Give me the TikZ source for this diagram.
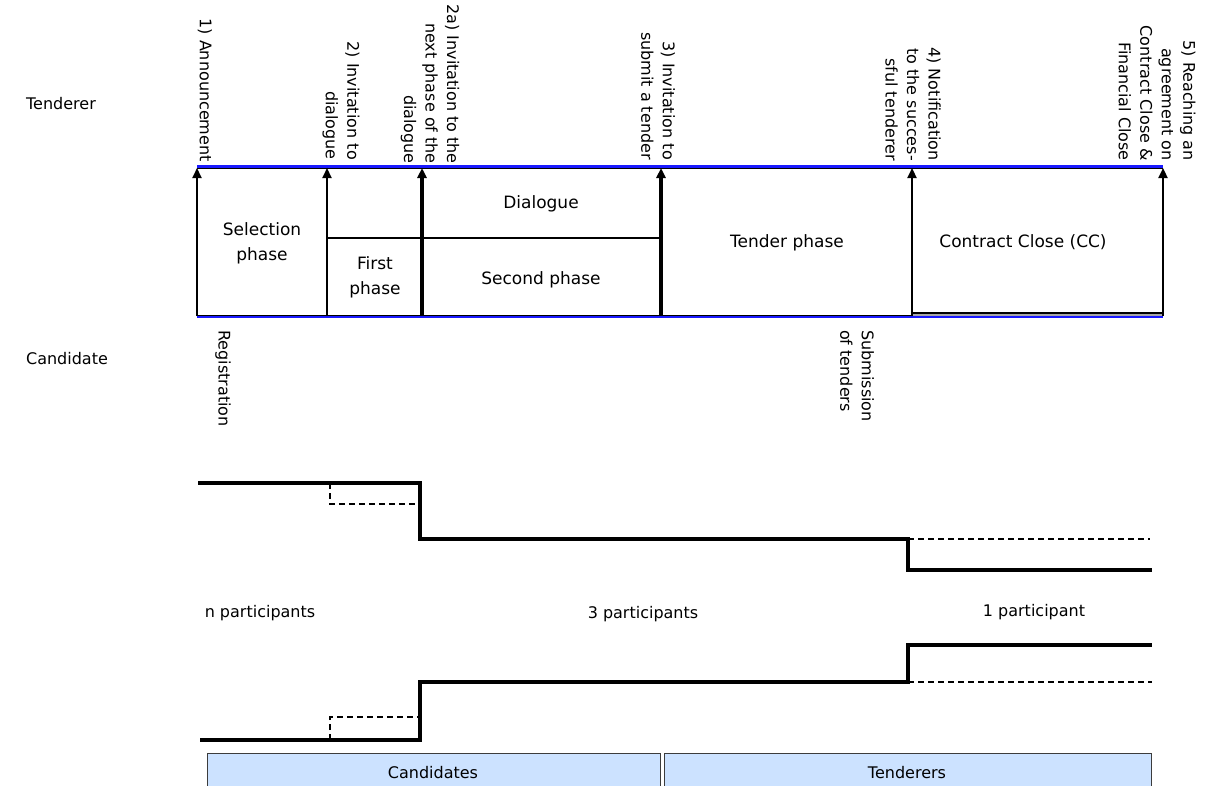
\documentclass[tikz,border=0pt]{standalone}
\usepackage{fontspec}
\setmainfont{DejaVu Sans}
\usetikzlibrary{arrows.meta}
\definecolor{legblue}{RGB}{204,226,255}
\definecolor{legline}{RGB}{60,60,60}
\definecolor{phaseblue}{RGB}{25,25,255}
\begin{document}
\begin{tikzpicture}[x=1pt,y=-1pt,
  lbl/.style={font=\fontsize{16}{21.5}\selectfont, inner sep=0pt},
  vlbl/.style={lbl, rotate=-90, align=right, anchor=east},
  boxtxt/.style={font=\fontsize{17}{25}\selectfont, align=center, inner sep=0pt},
  arr/.style={-{Triangle[length=10pt,width=9pt]}, line width=2.2pt},
  thickarr/.style={-{Triangle[length=10pt,width=9pt]}, line width=3.2pt},
  stepline/.style={line width=4pt, line join=miter},
  dashline/.style={dash pattern=on 6pt off 4pt, line width=1.5pt},
  blueline/.style={draw=phaseblue, line width=2.2pt},
  legend/.style={draw=legline, line width=1pt, fill=legblue, inner sep=0pt}
]
\useasboundingbox (0,0) rectangle (1210,785);
\clip (0,0) rectangle (1210,785);

% milestone coordinates
\foreach \n/\x in {1/197,2/327,3/422,4/661,5/912,6/1163}{
  \coordinate (t\n) at (\x,168);
  \coordinate (b\n) at (\x,316);
}

% row labels
\node[lbl] (tenderer) at (61,104) {Tenderer};
\node[lbl] (candidate) at (67,359) {Candidate};

% box outlines
\draw[line width=1.2pt] (197,168.6) -- (1163,168.6);
\draw[line width=1.4pt] (b1) -- (b5);
\fill[black!35] (912,313) rectangle (1163,316);
\draw[line width=1.2pt] (912,313) -- (1163,313);
\draw[blueline] (197,166.5) -- (1163,166.5);
\draw[blueline] (197,317) -- (1163,317);

% dividers
\coordinate (d2) at (327,238);
\coordinate (d3) at (422,238);
\coordinate (d4) at (661,238);
\draw[line width=1.3pt] (d2) -- (d3);
\draw[line width=2.6pt] (d3) -- (d4);

% milestone arrows
\draw[arr] (b1) -- (t1);
\draw[arr] (b2) -- (t2);
\draw[thickarr] (b3) -- (t3);
\draw[thickarr] (b4) -- (t4);
\draw[arr] (b5) -- (t5);
\draw[arr] (b6) -- (t6);

% box texts
\node[boxtxt] (sel) at (262,243) {Selection\\phase};
\node[boxtxt] (first) at (375,277) {First\\phase};
\node[boxtxt] (dia) at (541,204) {Dialogue};
\node[boxtxt] (second) at (541,280) {Second phase};
\node[boxtxt] (tender) at (787,243) {Tender phase};
\node[boxtxt] (cc) at (1023,242) {Contract Close (CC)};

% milestone labels
\node[vlbl] (m1) at (205,162) {1) Announcement};
\node[vlbl] (m2) at (341,160) {2) Invitation to\\dialogue};
\node[vlbl] (m2a) at (430,164) {2a) Invitation to the\\next phase of the\\dialogue};
\node[vlbl] (m3) at (658,160) {3) Invitation to\\submit a tender};
\node[vlbl] (m4) at (913,161) {4) Notification\\to the succes-\\sful tenderer};
\node[vlbl] (m5) at (1157,161) {5) Reaching an\\agreement on\\Contract Close \&\\Financial Close};

% candidate-side labels
\node[lbl, rotate=-90, anchor=west] (reg) at (223,330) {Registration};
\node[lbl, rotate=-90, anchor=west, align=left] (sub) at (857,330) {Submission\\of tenders};

% participant curves
\coordinate (u0) at (198,483);
\coordinate (u1) at (420,483);
\coordinate (u2) at (420,539);
\coordinate (u3) at (908,539);
\coordinate (u4) at (908,570);
\coordinate (u5) at (1152,570);
\draw[stepline] (u0) -- (u1) -- (u2) -- (u3) -- (u4) -- (u5);
\coordinate (ud1) at (330,483);
\coordinate (ud2) at (330,504);
\coordinate (ud3) at (420,504);
\coordinate (ud4) at (1150,539);
\draw[dashline] (ud1) -- (ud2) -- (ud3);
\draw[dashline] (u3) -- (ud4);

\coordinate (l0) at (200,740);
\coordinate (l1) at (420,740);
\coordinate (l2) at (420,682);
\coordinate (l3) at (908,682);
\coordinate (l4) at (908,645);
\coordinate (l5) at (1152,645);
\draw[stepline] (l0) -- (l1) -- (l2) -- (l3) -- (l4) -- (l5);
\coordinate (ld1) at (330,740);
\coordinate (ld2) at (330,717);
\coordinate (ld3) at (420,717);
\coordinate (ld4) at (1152,682);
\draw[dashline] (ld1) -- (ld2) -- (ld3);
\draw[dashline] (l3) -- (ld4);

\node[lbl] (np) at (260,613) {n participants};
\node[lbl] (tp) at (643,614) {3 participants};
\node[lbl] (op) at (1034,612) {1 participant};

% legend boxes
\node[legend, minimum width=453pt, minimum height=50pt, anchor=north west] (cand) at (207,753) {};
\node[legend, minimum width=487pt, minimum height=50pt, anchor=north west] (tend) at (664,753) {};
\node[lbl] (candtxt) at (433,773) {Candidates};
\node[lbl] (tendtxt) at (907,773) {Tenderers};
\end{tikzpicture}
\end{document}
